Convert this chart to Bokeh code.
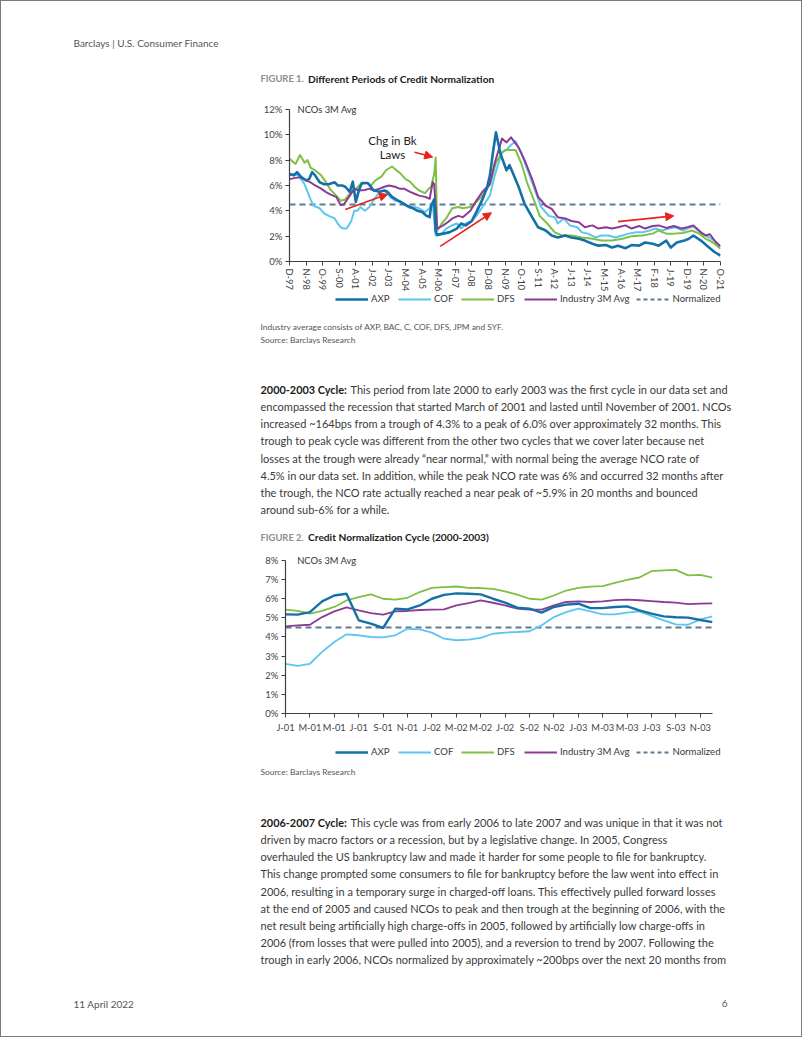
from bokeh.plotting import figure
from bokeh.models import Range1d, FixedTicker, Label, Legend, LegendItem, Arrow, NormalHead
from bokeh.layouts import column
from bokeh.embed import file_html
from bokeh.resources import INLINE
from bokeh.core.properties import value

FONT = "Lato"
W = 800
OFF = 1  # page border width

# ---------------- Figure 1 data (month index: 0 = Dec-97) ----------------
x1_labels = ["D-97", "N-98", "O-99", "S-00", "A-01", "J-02", "J-03", "M-04", "A-05", "M-06",
             "F-07", "J-08", "D-08", "N-09", "O-10", "S-11", "A-12", "J-13", "J-14", "M-15",
             "A-16", "M-17", "F-18", "J-19", "D-19", "N-20", "O-21"]
x1_ticks = [i * 11 for i in range(len(x1_labels))]
y1_ticks = [0, 2, 4, 6, 8, 10, 12]
y1_labels = ["0%", "2%", "4%", "6%", "8%", "10%", "12%"]

axp_m = [0, 3, 5, 8, 11, 13, 15, 17, 20, 23,
         26, 30, 32, 35, 37, 40, 42, 44, 46, 48,
         52, 54, 56, 60, 63, 65, 68, 72, 75, 78,
         82, 85, 88, 91, 93, 94, 96, 97, 98, 102,
         106, 111, 114, 117, 121, 124, 128, 131, 133, 135,
         137, 140, 144, 146, 148, 152, 156, 161, 165, 170,
         174, 178, 183, 187, 192, 196, 201, 205, 210, 214,
         218, 223, 227, 232, 236, 241, 245, 250, 253, 257,
         262, 265, 268, 273, 277, 282, 286]
axp_v = [6.9, 6.8, 7.05, 6.65, 6.4, 6.5, 7.05, 6.8, 6.25, 6.1,
         6.1, 6.25, 6.0, 6.0, 5.9, 5.5, 6.3, 4.7, 5.6, 6.2,
         6.2, 5.9, 5.6, 5.5, 5.6, 5.5, 5.1, 4.8, 4.6, 4.4,
         4.2, 4.0, 3.9, 3.6, 3.5, 4.4, 4.9, 2.4, 2.1, 2.2,
         2.3, 2.6, 3.0, 2.85, 3.2, 3.9, 4.9, 5.8, 6.8, 8.6,
         10.2, 8.5, 7.2, 7.6, 7.05, 5.9, 4.55, 3.5, 2.7, 2.45,
         2.05, 1.9, 2.05, 1.9, 1.8, 1.65, 1.4, 1.25, 1.3, 1.1,
         1.25, 1.05, 1.3, 1.25, 1.5, 1.4, 1.25, 1.65, 1.1, 1.5,
         1.65, 1.8, 2.05, 1.65, 1.25, 0.75, 0.47]

cof_m = [0, 3, 6, 10, 12, 14, 16, 20, 23, 26,
         30, 32, 34, 36, 38, 41, 43, 45, 47, 50,
         53, 56, 60, 63, 66, 70, 73, 76, 80, 83,
         86, 90, 93, 95, 97, 98, 101, 104, 107, 111,
         114, 117, 121, 124, 128, 133, 136, 138, 141, 144,
         147, 150, 154, 158, 163, 167, 172, 176, 178, 182,
         186, 191, 194, 198, 203, 207, 212, 216, 221, 225,
         230, 234, 239, 243, 247, 252, 256, 261, 265, 268,
         273, 277, 282, 286]
cof_v = [6.8, 6.9, 6.8, 6.1, 5.5, 4.9, 4.4, 4.2, 3.8, 3.6,
         3.4, 3.0, 2.7, 2.6, 2.6, 3.2, 4.0, 4.0, 4.3, 4.0,
         4.3, 4.9, 5.5, 5.6, 5.2, 4.8, 4.8, 4.55, 4.2, 4.3,
         4.2, 3.9, 4.2, 4.6, 2.05, 2.05, 2.2, 2.6, 2.8, 3.0,
         2.6, 3.0, 3.2, 3.6, 4.3, 5.2, 6.7, 7.5, 8.6, 8.8,
         9.2, 9.5, 8.5, 7.2, 5.6, 4.3, 3.6, 3.5, 3.0, 3.4,
         2.85, 2.7, 2.3, 2.2, 1.9, 2.05, 2.05, 1.9, 2.05, 2.2,
         2.3, 2.3, 2.45, 2.6, 2.45, 2.6, 2.7, 2.45, 2.65, 2.75,
         2.3, 2.0, 1.65, 1.2]

dfs_m = [0, 4, 7, 10, 12, 14, 17, 21, 24, 27,
         31, 34, 37, 41, 44, 47, 51, 54, 57, 61,
         64, 68, 71, 74, 77, 80, 83, 86, 90, 92,
         94, 96, 97, 98, 101, 104, 108, 112, 115, 120,
         124, 128, 133, 137, 141, 143, 150, 154, 158, 163,
         166, 171, 176, 181, 187, 194, 201, 207, 214, 221,
         227, 234, 241, 245, 250, 255, 261, 267, 272, 276,
         281, 286]
dfs_v = [8.1, 7.7, 8.4, 7.8, 8.0, 7.4, 7.2, 6.8, 6.3, 5.7,
         5.2, 4.8, 4.9, 5.5, 5.7, 6.1, 6.2, 6.0, 6.4, 6.7,
         7.2, 7.5, 7.2, 6.9, 6.5, 6.3, 5.9, 5.6, 5.4, 5.7,
         5.9, 6.9, 8.2, 2.4, 3.0, 3.4, 4.2, 4.3, 4.2, 4.3,
         4.7, 5.2, 6.1, 7.8, 8.6, 8.8, 8.8, 7.7, 6.1, 4.6,
         3.6, 3.0, 2.3, 2.05, 2.05, 1.9, 1.8, 1.65, 1.65, 1.8,
         2.0, 2.05, 2.2, 2.45, 2.2, 2.2, 2.25, 2.45, 2.2, 1.8,
         1.5, 1.0]

ind_m = [0, 4, 7, 11, 14, 17, 21, 24, 27, 31,
         34, 36, 40, 43, 46, 50, 53, 56, 60, 63,
         66, 70, 73, 76, 80, 83, 86, 90, 93, 95,
         96, 98, 102, 105, 108, 112, 115, 120, 124, 128,
         133, 136, 141, 144, 147, 152, 156, 161, 165, 170,
         174, 178, 183, 187, 192, 196, 201, 205, 210, 214,
         218, 223, 227, 232, 236, 241, 245, 250, 255, 260,
         264, 268, 273, 276, 279, 283, 286]
ind_v = [6.5, 6.6, 6.65, 6.4, 6.25, 6.0, 5.75, 5.5, 5.3, 5.1,
         4.45, 4.5, 5.2, 5.75, 5.6, 5.65, 5.75, 5.6, 5.75, 5.9,
         6.0, 5.9, 5.75, 5.75, 5.5, 5.35, 5.2, 5.1, 4.95, 6.25,
         6.1, 2.6, 2.85, 3.1, 3.4, 3.6, 3.5, 4.0, 4.8, 5.5,
         6.1, 7.7, 9.7, 9.4, 9.8, 9.0, 8.0, 6.5, 5.1, 4.4,
         4.15, 3.5, 3.4, 3.2, 3.1, 2.7, 2.85, 2.6, 2.7, 2.6,
         2.7, 2.85, 2.6, 2.8, 2.6, 2.8, 2.85, 2.65, 2.8, 2.6,
         2.7, 2.85, 2.3, 2.05, 2.15, 1.5, 1.2]

norm1_m = [0, 286]
norm1_v = [4.5, 4.5]

# annotation arrows (month, value)
arrow_x0 = [83, 37, 100, 218]
arrow_y0 = [8.63, 4.1, 1.2, 3.15]
arrow_x1 = [95, 65, 134, 255]
arrow_y1 = [8.24, 5.3, 3.85, 3.6]

# ---------------- Figure 2 data (month index: 0 = Jan-01) ----------------
x2_labels = ["J-01", "M-01", "M-01", "J-01", "S-01", "N-01", "J-02", "M-02", "M-02",
             "J-02", "S-02", "N-02", "J-03", "M-03", "M-03", "J-03", "S-03", "N-03"]
x2_ticks = [i * 2 for i in range(len(x2_labels))]
y2_ticks = [0, 1, 2, 3, 4, 5, 6, 7, 8]
y2_labels = ["0%", "1%", "2%", "3%", "4%", "5%", "6%", "7%", "8%"]
months2 = list(range(36))
axp2 = [5.18, 5.17, 5.3, 5.86, 6.17, 6.26, 4.87, 4.7, 4.47, 5.48,
        5.44, 5.65, 6.0, 6.2, 6.28, 6.26, 6.23, 6.0, 5.8, 5.53,
        5.48, 5.27, 5.57, 5.69, 5.74, 5.51, 5.51, 5.57, 5.6, 5.39,
        5.22, 5.08, 5.03, 5.01, 4.89, 4.78]
cof2 = [2.6, 2.49, 2.6, 3.22, 3.74, 4.14, 4.09, 4.0, 3.98, 4.09,
        4.43, 4.4, 4.23, 3.91, 3.83, 3.86, 3.95, 4.17, 4.23, 4.26,
        4.3, 4.61, 5.04, 5.3, 5.48, 5.34, 5.18, 5.18, 5.27, 5.34,
        5.1, 4.87, 4.66, 4.64, 4.92, 5.08]
dfs2 = [5.43, 5.36, 5.22, 5.37, 5.57, 5.91, 6.09, 6.23, 6.0, 5.95,
        6.05, 6.35, 6.57, 6.61, 6.64, 6.57, 6.56, 6.52, 6.38, 6.21,
        6.0, 5.95, 6.17, 6.43, 6.57, 6.63, 6.66, 6.83, 6.99, 7.11,
        7.44, 7.48, 7.51, 7.22, 7.25, 7.1]
ind2 = [4.56, 4.61, 4.64, 5.04, 5.34, 5.55, 5.39, 5.25, 5.17, 5.34,
        5.36, 5.41, 5.43, 5.44, 5.65, 5.77, 5.91, 5.79, 5.65, 5.48,
        5.43, 5.43, 5.65, 5.83, 5.86, 5.83, 5.86, 5.93, 5.95, 5.92,
        5.88, 5.83, 5.8, 5.72, 5.74, 5.76]
norm2_m = [0, 35]
norm2_v = [4.5, 4.5]

series_names = ["AXP", "COF", "DFS", "Industry 3M Avg", "Normalized"]
C_AXP = "#1670a8"
C_COF = "#5cc6f0"
C_DFS = "#7dc043"
C_IND = "#8c3b95"
C_NORM = "#5f7a91"
RED = "#e8231c"
AX = "#404040"
TXT = "#3a3a3a"
series_colors = [C_AXP, C_COF, C_DFS, C_IND, C_NORM]
series_widths = [2.6, 1.8, 1.8, 1.8, 2.0]
series_dash = ["solid", "solid", "solid", "solid", "4 3"]


def style_chart(p, xt, xl, yt, yl, ybounds, vertical):
    p.xgrid.visible = False
    p.ygrid.visible = False
    p.outline_line_color = None
    p.background_fill_color = None
    p.border_fill_color = None
    xa = p.xaxis[0]
    xa.ticker = FixedTicker(ticks=xt)
    xa.major_label_overrides = {t: l for t, l in zip(xt, xl)}
    ya = p.yaxis[0]
    ya.ticker = FixedTicker(ticks=yt)
    ya.major_label_overrides = {t: l for t, l in zip(yt, yl)}
    ya.bounds = ybounds
    for a in (xa, ya):
        a.axis_line_color = AX
        a.axis_line_width = 1.2
        a.major_tick_line_color = AX
        a.major_tick_out = 4
        a.major_tick_in = 0
        a.minor_tick_line_color = None
        a.major_label_text_font = FONT
        a.major_label_text_color = "#444444"
        a.major_label_text_font_size = "9.6px"
        a.major_label_standoff = 3
    xa.major_label_text_font_size = "9.3px"
    if vertical:
        xa.major_label_orientation = "vertical"
    else:
        xa.major_label_standoff = 4


def make_chart(h, xr, yr, bl, br, bt, bb):
    return figure(width=W, height=h, x_range=Range1d(*xr), y_range=Range1d(*yr),
                  output_backend="svg", toolbar_location=None, frame_align=False,
                  min_border_left=bl, min_border_right=br, min_border_top=bt, min_border_bottom=bb)


# ---------------- Chart 1 (page y 96..294, frame x 289..720) ----------------
p1 = make_chart(198, (0, 286), (0, 12.47), 289 - OFF, W + OFF - 720, 7, 33)
style_chart(p1, x1_ticks, x1_labels, y1_ticks, y1_labels, (0, 12), True)
p1.line(norm1_m, norm1_v, line_color=C_NORM, line_width=2, line_dash="6 4")
p1.line(cof_m, cof_v, line_color=C_COF, line_width=2, line_join="round")
p1.line(dfs_m, dfs_v, line_color=C_DFS, line_width=2, line_join="round")
p1.line(ind_m, ind_v, line_color=C_IND, line_width=2, line_join="round")
p1.line(axp_m, axp_v, line_color=C_AXP, line_width=2.6, line_join="round")
for xs, ys, xe, ye in zip(arrow_x0, arrow_y0, arrow_x1, arrow_y1):
    p1.add_layout(Arrow(end=NormalHead(size=8, fill_color=RED, line_color=RED),
                        x_start=xs, y_start=ys, x_end=xe, y_end=ye,
                        line_color=RED, line_width=1.6))
p1.add_layout(Label(x=68.3, y=9.55, text="Chg in Bk", text_align="center", text_baseline="middle",
                    text_font=FONT, text_font_size="11.5px", text_color="#222222"))
p1.add_layout(Label(x=68.3, y=8.45, text="Laws", text_align="center", text_baseline="middle",
                    text_font=FONT, text_font_size="11.5px", text_color="#222222"))
p1.add_layout(Label(x=5.3, y=12.0, text="NCOs 3M Avg", text_align="left", text_baseline="middle",
                    text_font=FONT, text_font_size="9.4px", text_color="#333333"))

# ---------------- Chart 2 (page y 548..740, frame x 285..712) ----------------
p2 = make_chart(192, (0, 35), (0, 8.365), 285 - OFF, W + OFF - 712, 5, 27)
style_chart(p2, x2_ticks, x2_labels, y2_ticks, y2_labels, (0, 8), False)
p2.line(norm2_m, norm2_v, line_color=C_NORM, line_width=2, line_dash="6 4")
p2.line(months2, cof2, line_color=C_COF, line_width=1.8)
p2.line(months2, dfs2, line_color=C_DFS, line_width=1.8)
p2.line(months2, ind2, line_color=C_IND, line_width=1.8)
p2.line(months2, axp2, line_color=C_AXP, line_width=2.4)
p2.add_layout(Label(x=0.96, y=8.0, text="NCOs 3M Avg", text_align="left", text_baseline="middle",
                    text_font=FONT, text_font_size="9.4px", text_color="#333333"))


# ---------------- Text panels ----------------
def text_fig(h):
    p = figure(width=W, height=h, x_range=Range1d(0, W), y_range=Range1d(h, 0),
               output_backend="svg", toolbar_location=None, min_border=0, frame_align=False,
               x_axis_type=None, y_axis_type=None)
    p.xgrid.visible = False
    p.ygrid.visible = False
    p.outline_line_color = None
    p.background_fill_color = None
    p.border_fill_color = None
    return p


def put(p, top, x, y, s, size, color, style="normal", align="left"):
    p.text(x=[x - OFF], y=[y - top], text=[s], text_font=value(FONT), text_font_size=size,
           text_color=color, text_font_style=style, text_baseline="middle", text_align=align)


def legend_in(p, loc):
    rs = []
    nan = float("nan")
    for c, w, d in zip(series_colors, series_widths, series_dash):
        rs.append(p.line(x=[nan, nan], y=[nan, nan], line_color=c, line_width=w, line_dash=d))
    items = [LegendItem(label=n, renderers=[r]) for n, r in zip(series_names, rs)]
    lg = Legend(items=items, orientation="horizontal", location=loc,
                padding=0, margin=0, spacing=7, label_standoff=3,
                glyph_width=33, glyph_height=10, label_height=10,
                label_text_font=FONT, label_text_font_size="9.6px",
                label_text_color=TXT, background_fill_alpha=0,
                border_line_color=None)
    p.add_layout(lg)


BODY = "11px"
BOLD = "10.9px"
LINE = 17.05

T1 = OFF
t1 = text_fig(96 - T1)
put(t1, T1, 73, 42.3, "Barclays | U.S. Consumer Finance", "10px", "#555555")
put(t1, T1, 260, 78, "FIGURE 1.", "9.4px", "#8c8c8c", "bold")
put(t1, T1, 307.5, 78, "Different Periods of Credit Normalization", "10.2px", "#1a1a1a", "bold")

T3 = 294
t3 = text_fig(548 - T3)
legend_in(t3, (335 - OFF, (548 - T3) - (304 - T3)))
put(t3, T3, 260, 326.7, "Industry average consists of AXP, BAC, C, COF, DFS, JPM and SYF.", "8.4px", "#555555")
put(t3, T3, 260, 339, "Source: Barclays Research", "8.4px", "#555555")
para1 = [
    "This period from late 2000 to early 2003 was the first cycle in our data set and",
    "encompassed the recession that started March of 2001 and lasted until November of 2001. NCOs",
    "increased ~164bps from a trough of 4.3% to a peak of 6.0% over approximately 32 months. This",
    "trough to peak cycle was different from the other two cycles that we cover later because net",
    "losses at the trough were already \u201cnear normal,\u201d with normal being the average NCO rate of",
    "4.5% in our data set. In addition, while the peak NCO rate was 6% and occurred 32 months after",
    "the trough, the NCO rate actually reached a near peak of ~5.9% in 20 months and bounced",
    "around sub-6% for a while.",
]
put(t3, T3, 260, 389.3, "2000-2003 Cycle:", BOLD, "#1a1a1a", "bold")
for i, line in enumerate(para1):
    put(t3, T3, 350 if i == 0 else 260, 389.3 + i * LINE, line, BODY, TXT)
put(t3, T3, 260, 536.7, "FIGURE 2.", "9.4px", "#8c8c8c", "bold")
put(t3, T3, 307.5, 536.7, "Credit Normalization Cycle (2000-2003)", "10.2px", "#1a1a1a", "bold")

T5 = 740
H5 = 1036 - T5
t5 = text_fig(H5)
legend_in(t5, (335 - OFF, H5 - (757 - T5)))
put(t5, T5, 260, 771.7, "Source: Barclays Research", "8.4px", "#555555")
para2 = [
    "This cycle was from early 2006 to late 2007 and was unique in that it was not",
    "driven by macro factors or a recession, but by a legislative change. In 2005, Congress",
    "overhauled the US bankruptcy law and made it harder for some people to file for bankruptcy.",
    "This  change prompted some consumers to file for bankruptcy before the law went into effect in",
    "2006, resulting in a temporary surge in charged-off loans. This effectively pulled forward losses",
    "at the end of 2005 and caused NCOs to peak and then trough at the beginning of 2006, with the",
    "net result being artificially high charge-offs in 2005, followed by artificially low charge-offs in",
    "2006 (from losses that were pulled into 2005), and a reversion to trend by 2007. Following the",
    "trough in early 2006, NCOs normalized by approximately ~200bps over the next 20 months from",
]
put(t5, T5, 260, 822.3, "2006-2007 Cycle:", BOLD, "#1a1a1a", "bold")
for i, line in enumerate(para2):
    put(t5, T5, 350 if i == 0 else 260, 822.3 + i * LINE, line, BODY, TXT)
put(t5, T5, 73, 1003.3, "11 April 2022", "10px", "#555555")
put(t5, T5, 727, 1003.3, "6", "10px", "#555555", align="right")

page = column(t1, p1, t3, p2, t5, spacing=0,
              styles={"border": "1px solid #7a7a7a"})
open("out.html", "w").write(file_html(page, INLINE))
